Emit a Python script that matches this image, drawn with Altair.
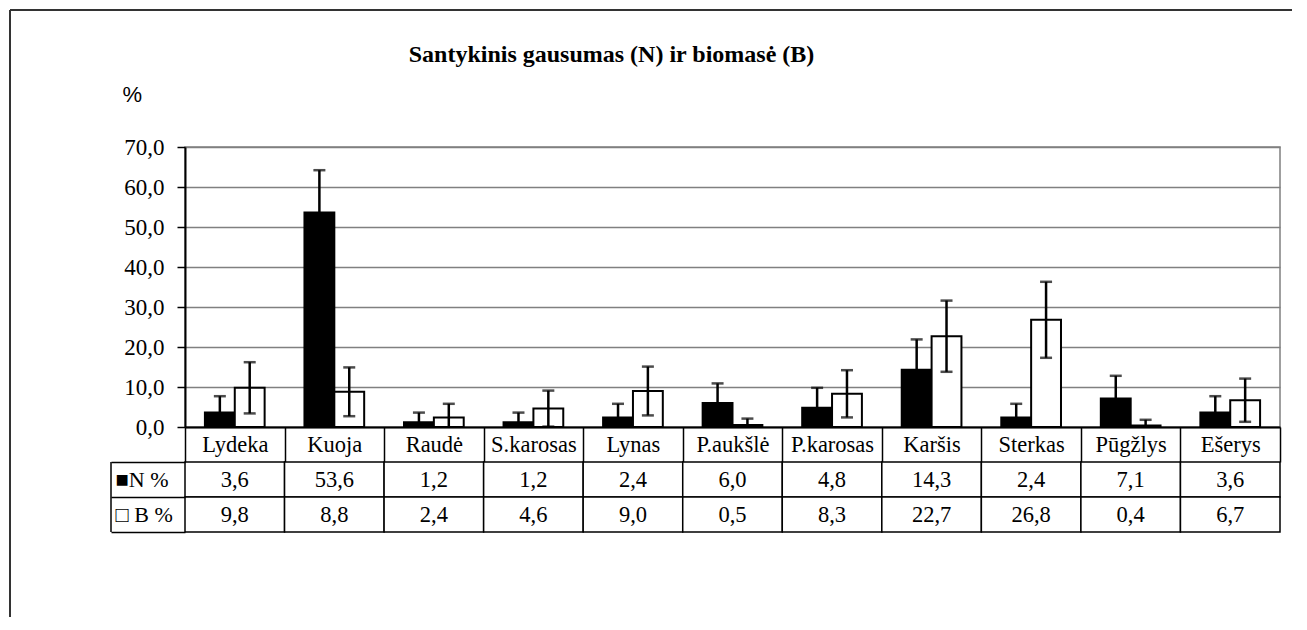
import altair as alt
import pandas as pd

categories = ["Lydeka", "Kuoja", "Raudė", "S.karosas", "Lynas", "P.aukšlė",
              "P.karosas", "Karšis", "Sterkas", "Pūgžlys", "Ešerys"]
n_values = [3.6, 53.6, 1.2, 1.2, 2.4, 6.0, 4.8, 14.3, 2.4, 7.1, 3.6]
b_values = [9.8, 8.8, 2.4, 4.6, 9.0, 0.5, 8.3, 22.7, 26.8, 0.4, 6.7]
n_errors = [4.1, 10.6, 2.4, 2.4, 3.4, 4.9, 5.0, 7.6, 3.4, 5.7, 4.1]
b_errors = [6.4, 6.1, 3.4, 4.5, 6.1, 1.6, 5.9, 8.9, 9.5, 1.4, 5.4]
series = ["N %", "B %"]
row_labels = ["■N %", "□ B %"]
y_ticks = [0, 10, 20, 30, 40, 50, 60, 70]
title_text = "Santykinis gausumas (N) ir biomasė (B)"

SERIF = "Liberation Serif"

rows = []
for s, vals, errs, lab in [(series[0], n_values, n_errors, row_labels[0]),
                           (series[1], b_values, b_errors, row_labels[1])]:
    for c, v, e in zip(categories, vals, errs):
        rows.append({"cat": c, "series": s, "row": lab, "value": v,
                     "low": v - e, "high": v + e,
                     "label": f"{v:.1f}".replace(".", ",")})
df = pd.DataFrame(rows)

x_axis = alt.Axis(title=None, orient="bottom", tickBand="extent",
                  tickSize=35, tickColor="black", tickWidth=1.5,
                  domainColor="black", domainWidth=2, labelAngle=0,
                  labelBaseline="middle", labelPadding=-17.5,
                  labelFont=SERIF, labelFontSize=22.5,
                  labelColor="black", grid=False)
x_enc = alt.X("cat:N", sort=categories,
              scale=alt.Scale(paddingInner=0, paddingOuter=0), axis=x_axis)
xo_enc = alt.XOffset("series:N", sort=series,
                     scale=alt.Scale(paddingInner=0, paddingOuter=0.667))
y_scale = alt.Scale(domain=[0, 70], nice=False, zero=True)
y_axis = alt.Axis(values=y_ticks, labelOverlap=False,
                  labelExpr="replace(format(datum.value, '.1f'), '.', ',')",
                  title="%", titleAngle=0, titleX=-63, titleY=-46,
                  titleAlign="left", titleBaseline="alphabetic",
                  titleFont="Liberation Sans", titleFontSize=22,
                  titleFontWeight="normal", titleColor="black",
                  gridColor="#808080", gridWidth=1.5,
                  tickSize=8, tickColor="black", tickWidth=1.5,
                  domainColor="black", domainWidth=2,
                  labelPadding=13, labelFont=SERIF, labelFontSize=23,
                  labelColor="black")

base = alt.Chart(df)
bars = base.mark_bar(stroke="black", strokeWidth=2).encode(
    x=x_enc, xOffset=xo_enc, y=alt.Y("value:Q", scale=y_scale, axis=y_axis),
    color=alt.Color("series:N", scale=alt.Scale(domain=series, range=["black", "white"]),
                    legend=None))
err_lines = base.mark_rule(color="black", strokeWidth=2.5, clip=True).encode(
    x=x_enc, xOffset=xo_enc,
    y=alt.Y("low:Q", scale=y_scale, axis=y_axis), y2="high:Q")
cap_hi = base.mark_tick(color="black", thickness=2.5, size=12, orient="horizontal",
                        clip=True).encode(
    x=x_enc, xOffset=xo_enc, y=alt.Y("high:Q", scale=y_scale, axis=y_axis))
cap_lo = base.mark_tick(color="black", thickness=2.5, size=12, orient="horizontal",
                        clip=True).encode(
    x=x_enc, xOffset=xo_enc, y=alt.Y("low:Q", scale=y_scale, axis=y_axis))

one = pd.DataFrame({"k": [0]})
frame_top = alt.Chart(one).mark_rule(color="#333333", strokeWidth=2).encode(
    x=alt.value(-175), x2=alt.value(1107), y=alt.value(-137))
frame_left = alt.Chart(one).mark_rule(color="#333333", strokeWidth=2).encode(
    x=alt.value(-175), y=alt.value(-137), y2=alt.value(470))

bar_chart = alt.layer(bars, err_lines, cap_hi, cap_lo, frame_top, frame_left).properties(
    width=1095, height=280,
    view=alt.ViewBackground(stroke="#808080", strokeWidth=1.5),
    title=alt.TitleParams(text=title_text, font=SERIF, fontSize=24, fontWeight="bold",
                          color="black", anchor="middle", frame="group",
                          dx=-121, dy=62))

tx = alt.X("cat:N", sort=categories, scale=alt.Scale(paddingInner=0, paddingOuter=0),
           axis=None)
ty = alt.Y("row:N", sort=row_labels, scale=alt.Scale(paddingInner=0, paddingOuter=0),
           axis=alt.Axis(title=None, tickBand="extent", tickSize=74, tickColor="black",
                         tickWidth=1.5, domain=False, labelAlign="left",
                         labelPadding=-4, labelFont=SERIF, labelFontSize=22,
                         labelColor="black", grid=False))
tbase = alt.Chart(df)
cells = tbase.mark_rect(fill="white", stroke="black", strokeWidth=1.5).encode(x=tx, y=ty)
cell_text = tbase.mark_text(font=SERIF, fontSize=22.5, color="black").encode(
    x=tx, y=ty, text="label:N")
hdr_left = alt.Chart(one).mark_rule(color="black", strokeWidth=1.5).encode(
    x=alt.value(-74), y=alt.value(0), y2=alt.value(70))
table_chart = alt.layer(cells, cell_text, hdr_left).properties(
    width=1095, height=70, view=alt.ViewBackground(stroke=None))

chart = alt.vconcat(bar_chart, table_chart, spacing=35, bounds="flush").properties(
    padding=0
).configure_view(stroke=None)

chart.save("out.html", embed_options={"renderer": "svg", "actions": False})
